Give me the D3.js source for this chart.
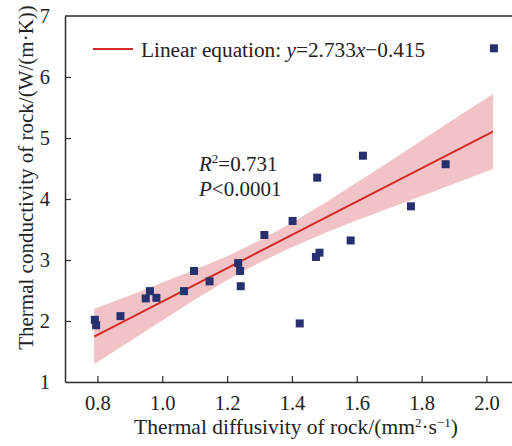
<!DOCTYPE html>
<html>
<head>
<meta charset="utf-8">
<script src="https://cdn.jsdelivr.net/npm/d3@7"></script>
<style>
  html, body { margin: 0; padding: 0; background: #fff; }
  svg { display: block; font-family: "Liberation Serif", "Times New Roman", serif; }
</style>
</head>
<body>
<svg id="chart" width="512" height="446"></svg>
<script>
// ---- data ----
const diffusivity = [0.792, 0.796, 0.871, 0.949, 0.962, 0.982, 1.067, 1.098, 1.146, 1.234, 1.240, 1.242, 1.315, 1.402, 1.424, 1.474, 1.478, 1.485, 1.581, 1.619, 1.767, 1.874, 2.023];
const conductivity = [2.02, 1.93, 2.08, 2.37, 2.49, 2.38, 2.49, 2.82, 2.65, 2.95, 2.82, 2.57, 3.41, 3.64, 1.96, 3.05, 4.35, 3.12, 3.32, 4.71, 3.88, 4.57, 6.47];
const fitSlope = 2.733;
const fitIntercept = -0.415;
const fitRange = [0.79, 2.02];
const bandX     = [0.79, 0.9, 1.0, 1.1, 1.2, 1.3, 1.4, 1.5, 1.6, 1.7, 1.8, 1.9, 2.02];
const bandLower = [1.29, 1.67, 2.01, 2.35, 2.67, 2.96, 3.21, 3.44, 3.65, 3.85, 4.05, 4.25, 4.49];
const bandUpper = [2.20, 2.42, 2.63, 2.84, 3.06, 3.32, 3.61, 3.93, 4.27, 4.61, 4.96, 5.31, 5.72];
const xTicks = [0.8, 1.0, 1.2, 1.4, 1.6, 1.8, 2.0];
const yTicks = [1, 2, 3, 4, 5, 6, 7];

// ---- layout ----
const svg = d3.select("#chart");
const pL = 65, pR = 512, pT = 16, pB = 382;
const x = d3.scaleLinear().domain([0.7, 0.7 + (pR - pL) / 324.2]).range([pL, pR]);
const y = d3.scaleLinear().domain([1, 7]).range([pB, pT]);
const axisColor = "#2b2b2b";
const textColor = "#222";

// confidence band
const band = bandX.map((v, i) => ({x: v, lo: bandLower[i], hi: bandUpper[i]}));
svg.append("path")
  .datum(band)
  .attr("fill", "#f2c3c6")
  .attr("d", d3.area().x(d => x(d.x)).y0(d => y(d.lo)).y1(d => y(d.hi)));

// fit line
svg.append("line")
  .attr("x1", x(fitRange[0])).attr("y1", y(fitSlope * fitRange[0] + fitIntercept))
  .attr("x2", x(fitRange[1])).attr("y2", y(fitSlope * fitRange[1] + fitIntercept))
  .attr("stroke", "#d22b26").attr("stroke-width", 2);

// points
const pts = diffusivity.map((v, i) => ({x: v, y: conductivity[i]}));
const sq = 8;
svg.append("g").selectAll("rect").data(pts).join("rect")
  .attr("x", d => x(d.x) - sq / 2).attr("y", d => y(d.y) - sq / 2)
  .attr("width", sq).attr("height", sq)
  .attr("fill", "#27306f");

// axes
const xAxis = d3.axisBottom(x).tickValues(xTicks).tickFormat(d3.format(".1f")).tickSizeInner(-6).tickSizeOuter(0).tickPadding(13);
const gx = svg.append("g").attr("transform", `translate(0,${pB})`).call(xAxis);
const yAxis = d3.axisLeft(y).tickValues(yTicks).tickFormat(d3.format("d")).tickSizeInner(-6).tickSizeOuter(0).tickPadding(15);
const gy = svg.append("g").attr("transform", `translate(${pL},0)`).call(yAxis);
[gx, gy].forEach(g => {
  g.select(".domain").attr("stroke", axisColor).attr("stroke-width", 1.5);
  g.selectAll(".tick line").attr("stroke", axisColor).attr("stroke-width", 1.2);
  g.selectAll(".tick text").attr("fill", textColor).style("font-size", "20.5px").style("font-family", "Liberation Serif");
});
gy.selectAll(".tick").filter(d => d === 1 || d === 7).select("line").remove();
// top border
svg.append("line").attr("x1", pL).attr("x2", pR).attr("y1", pT).attr("y2", pT)
  .attr("stroke", axisColor).attr("stroke-width", 1.5);

// legend
svg.append("line").attr("x1", 93).attr("x2", 133).attr("y1", 49).attr("y2", 49)
  .attr("stroke", "#d22b26").attr("stroke-width", 2);
const leg = svg.append("text").attr("x", 141).attr("y", 57).attr("fill", textColor).style("font-size", "21.3px");
leg.append("tspan").text("Linear equation: ");
leg.append("tspan").style("font-style", "italic").text("y");
leg.append("tspan").text("=2.733");
leg.append("tspan").style("font-style", "italic").text("x");
leg.append("tspan").text("\u22120.415");

// stats text
const r2 = svg.append("text").attr("x", 199).attr("y", 171).attr("fill", textColor).style("font-size", "21px");
r2.append("tspan").style("font-style", "italic").text("R");
r2.append("tspan").attr("dy", -8).style("font-size", "13px").text("2");
r2.append("tspan").attr("dy", 8).text("=0.731");
const pv = svg.append("text").attr("x", 199).attr("y", 196).attr("fill", textColor).style("font-size", "21px");
pv.append("tspan").style("font-style", "italic").text("P");
pv.append("tspan").text("<0.0001");

// axis titles
const xt = svg.append("text").attr("x", 296).attr("y", 434).attr("text-anchor", "middle")
  .attr("fill", textColor).style("font-size", "21.5px");
xt.append("tspan").text("Thermal diffusivity of rock/(mm");
xt.append("tspan").attr("dy", -7).style("font-size", "13px").text("2");
xt.append("tspan").attr("dy", 7).text("\u00b7s");
xt.append("tspan").attr("dy", -7).style("font-size", "13px").text("\u22121");
xt.append("tspan").attr("dy", 7).text(")");

svg.append("text").attr("transform", `translate(33,177.5) rotate(-90)`)
  .attr("text-anchor", "middle").attr("fill", textColor).style("font-size", "21px")
  .text("Thermal conductivity of rock/(W/(m\u00b7K))");
</script>
</body>
</html>
